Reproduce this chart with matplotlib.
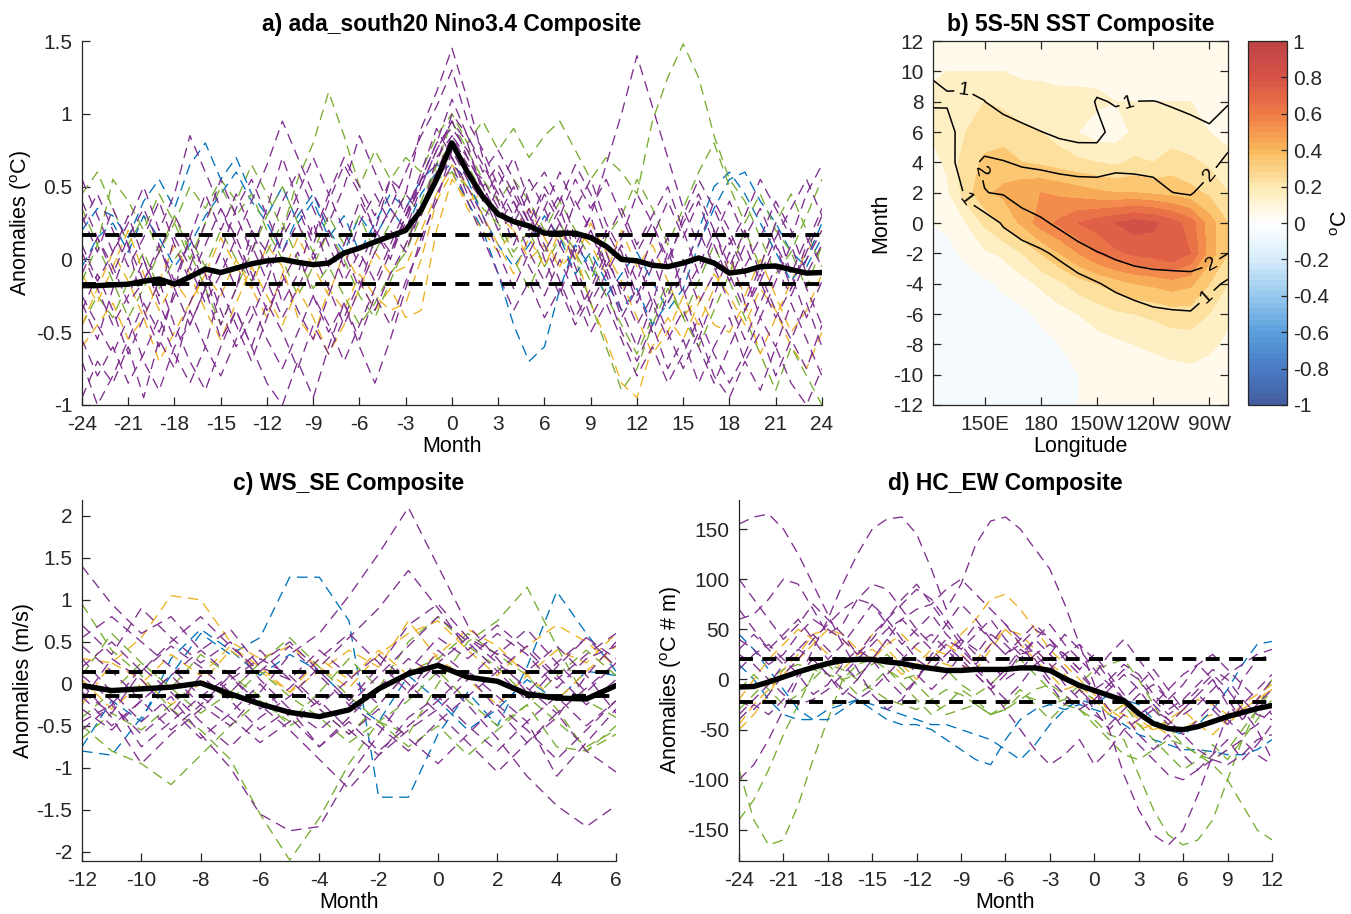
import numpy as np
import matplotlib
matplotlib.use("Agg")
import matplotlib.pyplot as plt
from matplotlib.colors import LinearSegmentedColormap, Normalize
from matplotlib.ticker import FuncFormatter, MultipleLocator
import matplotlib.cm as cm

plt.rcParams['font.family'] = ['Liberation Sans', 'DejaVu Sans']
plt.rcParams['mathtext.fontset'] = 'custom'
plt.rcParams['mathtext.rm'] = 'Liberation Sans'
plt.rcParams['axes.unicode_minus'] = False

# ---------------- colours (MATLAB order) ----------------
PUR, GRN, YEL, BLU = '#7E2F8E', '#77AC30', '#EDB120', '#0072BD'

# ---------------- panel a: Nino3.4 composite ----------------
a_months = np.arange(-24, 25)
a_comp = [-0.18, -0.18, -0.175, -0.17, -0.15, -0.135, -0.17,
          -0.12, -0.066, -0.09, -0.06, -0.03, -0.01, 0.0,
          -0.02, -0.036, -0.025, 0.044, 0.078, 0.12, 0.16,
          0.20, 0.34, 0.55, 0.80, 0.60, 0.43, 0.31,
          0.26, 0.23, 0.18, 0.18, 0.18, 0.15, 0.09,
          0.0, -0.01, -0.04, -0.05, -0.025, 0.01, -0.025,
          -0.094, -0.08, -0.05, -0.045, -0.07, -0.094, -0.09]
a_thresh = 0.17
a_s01 = [-0.30, -0.55, -0.20, 0.10, -0.35, -0.60, -0.20, 0.15, -0.10, -0.45, -0.20, 0.20, 0.05, -0.30,
         -0.10, 0.25, -0.05, 0.10, 0.40, 0.20, 0.55, 0.45, 0.90, 1.15, 1.45, 1.10, 0.70, 0.40,
         0.10, 0.35, 0.00, -0.25, 0.10, 0.30, -0.05, -0.35, -0.60, -0.30, 0.05, -0.20, -0.55, -0.25,
         0.05, -0.30, -0.05, 0.25, -0.10, -0.40, -0.15]
a_s02 = [-0.95, -0.70, -0.85, -0.60, -0.95, -0.55, -0.75, -0.35, -0.60, -0.20, -0.45, -0.70, -0.40, -0.10,
         -0.35, -0.55, -0.25, 0.05, -0.20, 0.15, 0.35, 0.20, 0.50, 0.75, 0.95, 0.80, 0.45, 0.20,
         0.30, 0.05, 0.25, 0.45, 0.15, -0.10, 0.20, 0.00, -0.30, -0.05, 0.15, -0.25, -0.05, 0.20,
         -0.10, -0.35, -0.15, 0.10, -0.20, 0.05, 0.30]
a_s03 = [0.45, 0.60, 0.35, 0.10, 0.30, 0.05, 0.25, 0.50, 0.35, 0.55, 0.40, 0.65, 0.45, 0.20,
         0.55, 0.80, 1.15, 0.85, 0.50, 0.75, 0.55, 0.70, 0.60, 0.85, 1.00, 0.80, 0.95, 0.75,
         0.90, 0.70, 0.85, 0.95, 0.75, 0.55, 0.70, 0.60, 0.45, 0.95, 1.25, 1.48, 1.25, 0.85,
         0.55, 0.40, 0.15, -0.10, 0.05, 0.30, 0.55]
a_s04 = [0.20, 0.35, 0.30, 0.15, 0.40, 0.55, 0.35, 0.65, 0.80, 0.55, 0.70, 0.45, 0.30, 0.50,
         0.25, 0.40, 0.15, 0.30, 0.05, 0.25, 0.45, 0.35, 0.55, 0.65, 0.60, 0.40, 0.20, -0.10,
         -0.45, -0.70, -0.60, -0.20, 0.10, -0.05, -0.25, -0.10, 0.05, -0.15, -0.35, -0.20, 0.10, 0.35,
         0.55, 0.60, 0.40, 0.25, 0.05, -0.05, 0.15]
a_s05 = [-0.60, -0.45, -0.30, -0.55, -0.40, -0.70, -0.50, -0.30, -0.10, -0.25, 0.00, -0.20, 0.10, -0.05,
         -0.40, -0.55, -0.20, -0.35, -0.10, -0.25, -0.35, -0.30, 0.00, 0.40, 0.60, 0.35, 0.20, 0.05,
         0.20, 0.00, 0.10, -0.05, 0.05, -0.30, -0.55, -0.85, -0.95, -0.60, -0.40, -0.55, -0.30, -0.10,
         -0.25, -0.45, -0.20, -0.35, -0.60, -0.75, -0.50]
a_s06 = [0.10, -0.15, 0.05, 0.30, 0.00, -0.25, 0.15, -0.05, 0.25, 0.55, 0.30, 0.05, 0.35, 0.70,
         0.40, 0.15, 0.45, 0.20, -0.05, 0.20, 0.00, 0.30, 0.60, 0.90, 0.70, 0.45, 0.25, 0.50,
         0.70, 0.40, 0.15, 0.35, 0.05, 0.30, 0.65, 1.00, 1.40, 1.05, 0.70, 0.35, 0.10, 0.40,
         0.20, -0.05, 0.15, 0.40, 0.20, -0.10, 0.10]
a_s07 = [-0.10, 0.15, -0.05, -0.30, -0.15, 0.10, -0.20, -0.45, -0.20, -0.55, -0.35, -0.60, -0.30, -0.50,
         -0.75, -0.45, -0.65, -0.40, -0.15, -0.35, -0.10, 0.10, 0.35, 0.55, 0.70, 0.50, 0.30, 0.05,
         -0.20, 0.05, -0.15, 0.10, -0.10, -0.40, -0.20, -0.50, -0.70, -0.45, -0.75, -0.55, -0.85, -0.60,
         -0.40, -0.70, -0.50, -0.80, -0.55, -0.30, -0.60]
a_s08 = [0.55, 0.30, 0.05, 0.25, 0.50, 0.20, 0.45, 0.85, 0.60, 0.35, 0.15, 0.40, 0.65, 0.95,
         0.70, 0.45, 0.25, 0.50, 0.85, 0.60, 0.35, 0.60, 0.85, 1.05, 1.30, 0.95, 0.75, 0.50,
         0.30, 0.55, 0.35, 0.10, 0.40, 0.20, -0.05, 0.15, 0.45, 0.25, -0.05, 0.30, 0.55, 0.35,
         0.10, 0.30, 0.55, 0.35, 0.15, 0.45, 0.65]
a_s09 = [-0.45, -0.25, -0.40, -0.15, 0.05, -0.20, 0.00, 0.15, -0.05, 0.20, 0.00, -0.15, 0.05, 0.25,
         0.00, -0.20, -0.05, -0.25, -0.45, -0.30, -0.10, 0.05, 0.30, 0.55, 0.60, 0.50, 0.35, 0.25,
         0.05, 0.20, -0.05, 0.15, 0.00, -0.30, -0.60, -0.90, -0.75, -0.45, -0.20, -0.40, -0.15, 0.10,
         -0.15, -0.40, -0.65, -0.90, -0.60, -0.80, -1.00]
a_s10 = [-0.70, -1.00, -0.80, -0.55, -0.30, -0.50, -0.25, -0.05, -0.30, -0.10, 0.15, -0.10, -0.35, -0.15,
         0.05, -0.25, -0.50, -0.30, -0.60, -0.85, -0.55, -0.20, 0.15, 0.40, 0.75, 0.55, 0.40, 0.60,
         0.40, 0.15, 0.35, 0.60, 0.35, 0.55, 0.25, 0.05, -0.25, 0.00, -0.30, -0.10, 0.20, -0.05,
         -0.30, -0.55, -0.30, -0.05, -0.25, 0.00, 0.20]
a_s11 = [-0.10, -0.30, -0.05, 0.20, -0.10, -0.35, -0.15, -0.30, -0.10, 0.15, -0.05, -0.20, -0.40, -0.10,
         0.15, -0.05, -0.25, 0.05, -0.15, -0.35, -0.20, -0.40, -0.35, 0.20, 0.55, 0.40, 0.45, 0.30,
         0.20, 0.35, 0.15, -0.05, 0.20, 0.10, -0.10, 0.20, -0.05, 0.10, -0.15, -0.40, -0.25, -0.45,
         -0.50, -0.30, -0.65, -0.40, -0.15, 0.05, 0.20]
a_s12 = [0.30, 0.05, 0.35, 0.10, -0.15, 0.05, 0.30, 0.10, -0.20, 0.05, 0.35, 0.55, 0.30, 0.05,
         0.25, 0.00, 0.20, -0.05, 0.25, 0.45, 0.25, 0.45, 0.30, 0.70, 0.85, 0.65, 0.55, 0.35,
         0.25, 0.45, 0.60, 0.40, 0.65, 0.45, 0.15, 0.35, 0.10, 0.30, 0.50, 0.20, -0.10, 0.15,
         0.40, 0.15, 0.35, 0.10, -0.10, 0.15, -0.05]
a_s13 = [-0.35, -0.10, -0.35, -0.65, -0.40, -0.15, -0.45, -0.70, -0.90, -0.60, -0.35, -0.60, -0.85, -1.00,
         -0.70, -0.95, -0.60, -0.30, -0.55, -0.25, -0.45, -0.15, 0.10, 0.45, 0.65, 0.40, 0.15, -0.10,
         -0.35, -0.15, -0.40, -0.20, -0.45, -0.25, 0.00, -0.20, -0.45, -0.25, -0.50, -0.75, -0.50, -0.80,
         -0.95, -0.70, -0.90, -0.60, -0.85, -1.00, -0.75]
a_s14 = [-0.05, 0.15, 0.25, 0.05, 0.30, 0.15, -0.05, 0.10, 0.30, 0.45, 0.60, 0.40, 0.25, 0.05,
         0.30, 0.45, 0.20, 0.05, 0.30, 0.15, 0.35, 0.20, 0.45, 0.60, 0.65, 0.55, 0.30, 0.10,
         -0.05, 0.10, 0.30, 0.15, -0.10, 0.05, -0.15, -0.35, -0.20, -0.45, -0.30, -0.10, 0.20, 0.50,
         0.60, 0.45, 0.25, 0.05, -0.15, 0.00, 0.25]
a_s15 = [0.35, 0.10, 0.55, 0.40, 0.20, 0.45, 0.25, 0.00, 0.25, 0.50, 0.30, 0.45, 0.20, 0.00,
         -0.25, -0.05, 0.20, 0.00, -0.25, -0.40, -0.15, 0.10, 0.40, 0.65, 0.80, 0.65, 0.45, 0.20,
         0.00, -0.20, 0.05, 0.25, 0.05, -0.15, 0.15, 0.30, 0.55, 0.35, 0.10, 0.35, 0.60, 0.80,
         0.50, 0.25, 0.45, 0.20, 0.05, -0.20, 0.10]
a_s16 = [-0.25, -0.45, -0.65, -0.40, -0.70, -0.90, -0.60, -0.45, -0.20, 0.05, -0.20, 0.10, -0.15, 0.15,
         0.35, 0.10, 0.40, 0.65, 0.45, 0.20, 0.05, 0.30, 0.55, 0.65, 1.00, 0.85, 0.60, 0.75,
         0.55, 0.30, 0.10, -0.15, -0.40, -0.20, 0.05, -0.25, 0.00, -0.30, -0.55, -0.35, -0.60, -0.85,
         -0.60, -0.35, -0.10, -0.35, -0.55, -0.75, -0.45]
a_s17 = [0.05, -0.20, -0.45, -0.25, 0.00, -0.30, -0.55, -0.30, -0.05, -0.35, -0.60, -0.40, -0.15, -0.40,
         -0.20, 0.05, -0.20, -0.45, -0.20, 0.05, 0.20, 0.05, 0.35, 0.60, 0.85, 0.70, 0.50, 0.25,
         0.40, 0.20, 0.45, 0.25, 0.00, 0.20, -0.10, -0.40, -0.20, -0.50, -0.25, 0.00, -0.30, -0.10,
         0.15, -0.10, -0.40, -0.15, 0.10, -0.20, -0.45]
a_s18 = [0.25, 0.45, 0.20, -0.05, 0.15, 0.40, 0.10, -0.15, 0.10, 0.35, 0.10, -0.15, 0.10, 0.40,
         0.60, 0.35, 0.10, -0.15, 0.05, -0.15, 0.10, 0.35, 0.55, 0.80, 0.90, 0.75, 0.50, 0.30,
         0.50, 0.25, 0.05, 0.25, -0.05, -0.30, -0.10, 0.10, -0.15, 0.15, 0.40, 0.15, 0.40, 0.10,
         -0.15, 0.10, -0.15, -0.40, -0.20, 0.10, 0.35]
a_s19 = [-0.45, -0.20, 0.05, -0.15, -0.40, -0.15, 0.10, -0.10, -0.35, -0.55, -0.30, -0.05, -0.25, -0.45,
         -0.20, -0.40, -0.65, -0.45, -0.20, 0.05, -0.10, -0.05, 0.20, 0.45, 0.65, 0.50, 0.30, 0.10,
         -0.10, 0.15, -0.05, 0.20, 0.00, 0.25, 0.05, -0.15, -0.40, -0.65, -0.50, -0.25, -0.45, -0.20,
         0.00, -0.25, 0.00, -0.25, -0.50, -0.35, -0.10]
a_s20 = [-0.55, -0.80, -0.60, -0.85, -0.65, -0.40, -0.65, -0.85, -0.60, -0.80, -0.55, -0.30, -0.55, -0.75,
         -0.50, -0.25, -0.45, -0.70, -0.45, -0.20, 0.05, 0.25, 0.55, 0.80, 1.10, 0.85, 0.65, 0.45,
         0.20, -0.05, -0.25, 0.00, -0.25, -0.50, -0.30, -0.55, -0.80, -0.60, -0.85, -0.65, -0.40, -0.65,
         -0.85, -0.65, -0.40, -0.60, -0.30, -0.55, -0.80]
a_s21 = [-0.15, 0.10, -0.15, -0.40, -0.20, 0.05, 0.30, 0.05, -0.20, -0.45, -0.20, 0.05, 0.30, 0.50,
         0.25, 0.05, 0.30, 0.10, 0.30, 0.05, 0.25, 0.45, 0.30, 0.65, 0.95, 0.75, 0.55, 0.40,
         0.55, 0.40, 0.20, 0.40, 0.20, 0.00, -0.25, -0.45, -0.65, -0.40, -0.15, -0.40, -0.60, -0.35,
         -0.10, 0.20, -0.05, 0.25, 0.45, 0.20, -0.05]
a_s22 = [0.40, 0.15, -0.10, 0.15, 0.35, 0.10, -0.15, 0.15, 0.45, 0.20, 0.45, 0.20, -0.05, 0.20,
         0.45, 0.70, 0.45, 0.70, 0.50, 0.30, 0.55, 0.30, 0.50, 0.75, 0.95, 0.70, 0.50, 0.65,
         0.45, 0.25, 0.50, 0.30, 0.55, 0.35, 0.55, 0.30, 0.05, 0.25, 0.00, 0.25, 0.45, 0.20,
         -0.05, 0.20, -0.10, 0.15, 0.35, 0.55, 0.30]
a_series = [a_s01, a_s02, a_s03, a_s04, a_s05, a_s06, a_s07, a_s08, a_s09, a_s10, a_s11,
            a_s12, a_s13, a_s14, a_s15, a_s16, a_s17, a_s18, a_s19, a_s20, a_s21, a_s22]
a_colors = [PUR, PUR, GRN, BLU, YEL, PUR, PUR, PUR, GRN, PUR, YEL,
            PUR, PUR, BLU, GRN, PUR, PUR, PUR, YEL, PUR, GRN, PUR]

# ---------------- panel b: 5S-5N SST composite ----------------
b_lon = [120, 130, 140, 150, 160, 170, 180, 190, 200, 210, 220, 230, 240, 250, 260, 270, 280]
b_month_top_down = [12, 10, 8, 6, 4, 2, 0, -2, -4, -6, -8, -10, -12]
b_sst = [
    [0.03, 0.04, 0.05, 0.05, 0.05, 0.04, 0.04, 0.04, 0.04, 0.03, 0.03, 0.03, 0.03, 0.03, 0.03, 0.03, 0.02],
    [0.08, 0.10, 0.10, 0.10, 0.10, 0.08, 0.08, 0.08, 0.08, 0.07, 0.06, 0.06, 0.06, 0.06, 0.06, 0.06, 0.05],
    [0.12, 0.15, 0.18, 0.20, 0.18, 0.15, 0.14, 0.12, 0.12, 0.12, 0.10, 0.10, 0.10, 0.10, 0.10, 0.08, 0.06],
    [0.10, 0.13, 0.20, 0.25, 0.25, 0.22, 0.20, 0.15, 0.10, 0.05, 0.05, 0.12, 0.13, 0.14, 0.13, 0.10, 0.08],
    [0.05, 0.12, 0.25, 0.32, 0.35, 0.30, 0.28, 0.25, 0.22, 0.20, 0.18, 0.22, 0.20, 0.25, 0.22, 0.18, 0.12],
    [0.02, 0.08, 0.25, 0.38, 0.42, 0.48, 0.50, 0.48, 0.45, 0.42, 0.40, 0.40, 0.38, 0.36, 0.33, 0.28, 0.20],
    [0.00, 0.02, 0.10, 0.22, 0.32, 0.42, 0.55, 0.62, 0.70, 0.75, 0.80, 0.85, 0.82, 0.75, 0.65, 0.45, 0.30],
    [-0.02, -0.03, 0.02, 0.08, 0.12, 0.20, 0.30, 0.40, 0.50, 0.60, 0.68, 0.72, 0.75, 0.80, 0.70, 0.45, 0.30],
    [-0.04, -0.05, -0.04, -0.02, 0.02, 0.06, 0.12, 0.18, 0.25, 0.30, 0.35, 0.40, 0.42, 0.45, 0.42, 0.30, 0.20],
    [-0.05, -0.05, -0.05, -0.05, -0.04, -0.02, 0.02, 0.06, 0.10, 0.14, 0.18, 0.20, 0.22, 0.25, 0.25, 0.20, 0.12],
    [-0.05, -0.05, -0.05, -0.05, -0.05, -0.04, -0.03, 0.00, 0.03, 0.06, 0.08, 0.10, 0.12, 0.14, 0.15, 0.12, 0.08],
    [-0.04, -0.04, -0.05, -0.05, -0.05, -0.05, -0.04, -0.02, 0.00, 0.02, 0.03, 0.04, 0.05, 0.06, 0.07, 0.06, 0.04],
    [-0.03, -0.03, -0.03, -0.03, -0.03, -0.03, -0.02, -0.02, 0.00, 0.00, 0.02, 0.02, 0.02, 0.03, 0.03, 0.02, 0.02],
]
# significance-type field drawn as the black 1 / 2 contours (rows: months 12 .. -12)
b_sig = [
    [0.70, 0.60, 0.50, 0.40, 0.30, 0.30, 0.30, 0.30, 0.30, 0.30, 0.30, 0.30, 0.30, 0.30, 0.30, 0.30, 0.30],
    [0.99, 0.85, 0.83, 0.75, 0.30, 0.30, 0.30, 0.30, 0.30, 0.40, 0.30, 0.32, 0.30, 0.30, 0.30, 0.30, 0.30],
    [1.05, 1.08, 1.10, 1.01, 0.72, 0.51, 0.30, 0.30, 0.30, 1.10, 0.93, 1.01, 1.02, 0.93, 0.81, 0.55, 0.93],
    [0.80, 0.70, 1.40, 1.57, 1.39, 1.21, 1.02, 0.83, 0.72, 0.72, 1.35, 1.38, 1.36, 1.31, 1.25, 1.17, 1.53],
    [0.60, 0.45, 1.75, 2.11, 2.04, 1.90, 1.74, 1.61, 1.52, 1.51, 1.75, 1.75, 1.72, 1.66, 1.58, 1.67, 2.24],
    [0.50, 0.50, 1.08, 1.98, 2.07, 2.54, 2.78, 2.63, 2.54, 2.51, 2.47, 2.40, 2.29, 2.01, 1.92, 2.39, 3.44],
    [0.40, 0.45, 0.75, 0.47, 1.10, 1.47, 1.81, 2.22, 2.68, 3.10, 3.41, 3.60, 3.49, 3.25, 2.93, 3.59, 3.20],
    [0.35, 0.40, 0.55, 0.40, 0.37, 0.64, 0.85, 1.18, 1.57, 1.93, 2.21, 2.41, 2.49, 2.53, 2.56, 2.46, 2.00],
    [0.30, 0.35, 0.45, 0.35, 0.30, 0.30, 0.30, 0.42, 0.70, 0.94, 1.22, 1.43, 1.56, 1.60, 1.63, 1.29, 0.83],
    [0.30, 0.30, 0.40, 0.30, 0.30, 0.30, 0.30, 0.30, 0.30, 0.30, 0.46, 0.65, 0.83, 0.90, 0.93, 0.48, 0.30],
    [0.30, 0.30, 0.35, 0.30, 0.30, 0.30, 0.30, 0.30, 0.30, 0.30, 0.30, 0.30, 0.30, 0.30, 0.30, 0.30, 0.30],
    [0.30, 0.30, 0.30, 0.30, 0.30, 0.30, 0.30, 0.30, 0.30, 0.30, 0.30, 0.30, 0.30, 0.30, 0.30, 0.30, 0.30],
    [0.30, 0.30, 0.30, 0.30, 0.30, 0.30, 0.30, 0.30, 0.30, 0.30, 0.30, 0.30, 0.30, 0.30, 0.30, 0.30, 0.30],
]
b_xticks = [150, 180, 210, 240, 270]
b_xticklabels = ['150E', '180', '150W', '120W', '90W']

# ---------------- panel c: WS_SE composite ----------------
c_months = np.arange(-12, 7)
c_comp = [-0.02, -0.08, -0.06, -0.04, 0.01, -0.12, -0.24, -0.34, -0.39, -0.31,
          -0.06, 0.12, 0.22, 0.08, 0.03, -0.12, -0.17, -0.18, -0.02]
c_thresh = 0.14
c_s01 = [-0.30, -0.55, -0.20, 0.10, -0.25, -0.50, -0.10, 0.35, 0.60, 1.05, 1.55, 2.10, 1.40, 0.70, 0.30, -0.10, 0.25, 0.55, 0.20]
c_s02 = [-0.80, -0.85, -0.40, 0.10, 0.60, 0.35, 0.55, 1.27, 1.27, 0.75, -1.35, -1.35, -0.60, -0.10, -0.50, 0.20, 1.10, 0.60, 0.15]
c_s03 = [0.95, 0.40, 0.10, -0.30, -0.55, -0.90, -1.55, -2.10, -1.60, -0.95, -0.45, -0.60, 0.00, 0.50, 0.75, 1.15, 0.45, -0.20, -0.40]
c_s04 = [0.30, -0.10, -0.45, -0.15, -0.60, -1.00, -1.55, -1.75, -1.70, -1.10, -0.60, -0.10, 0.40, 0.10, -0.30, -0.70, -0.40, 0.10, 0.50]
c_s05 = [0.30, 0.25, 0.55, 1.05, 1.00, 0.50, 0.30, 0.45, 0.20, -0.05, 0.35, 0.60, 0.75, 0.40, 0.10, 0.45, 0.70, 0.50, 0.20]
c_s06 = [-0.20, 0.30, 0.05, -0.35, 0.10, -0.20, -0.55, -0.30, -0.75, -0.40, -0.05, 0.30, 0.10, -0.25, -0.65, -1.10, -1.45, -1.70, -1.45]
c_s07 = [1.40, 0.95, 0.60, 0.80, 0.40, 0.65, 0.20, 0.05, 0.40, 0.10, -0.25, 0.15, 0.55, 0.30, 0.60, 0.35, -0.05, 0.30, 0.45]
c_s08 = [-0.50, -0.80, -0.95, -1.20, -0.85, -0.50, -0.20, -0.45, -0.10, 0.30, -0.05, 0.50, 0.80, 0.45, 0.20, -0.15, -0.45, -0.75, -0.55]
c_s09 = [-0.10, -0.35, 0.15, 0.45, 0.20, -0.10, 0.25, 0.50, 0.15, -0.20, 0.20, 0.70, 0.95, 0.55, 0.35, 0.65, 0.25, -0.10, 0.25]
c_s10 = [0.55, 0.80, 0.50, 0.20, -0.15, 0.10, -0.25, -0.55, -0.90, -1.25, -0.85, -0.40, -0.15, -0.50, -0.80, -0.45, -1.10, -0.70, -0.30]
c_s11 = [-0.75, -0.20, -0.45, 0.30, 0.65, 0.40, 0.10, 0.35, 0.15, -0.20, -0.45, 0.10, -0.20, -0.55, -0.30, 0.05, -0.20, 0.15, 0.10]
c_s12 = [0.10, -0.20, -0.75, -0.45, -0.15, -0.40, -0.70, -0.45, -0.20, -0.55, -0.85, -0.55, -0.30, 0.05, 0.40, 0.15, 0.45, 0.10, -0.35]
c_s13 = [-0.25, 0.25, 0.05, -0.25, 0.00, 0.40, 0.15, -0.10, 0.15, 0.40, 0.20, 0.75, 0.30, 0.05, -0.25, 0.10, 0.40, 0.25, 0.60]
c_s14 = [0.00, -0.40, -0.95, -0.60, -0.30, 0.05, 0.30, 0.10, -0.25, 0.05, 0.35, 0.00, -0.35, -0.70, -1.05, -0.70, -0.35, -0.80, -1.05]
c_s15 = [0.10, 0.60, 0.25, -0.05, 0.35, 0.10, -0.15, -0.50, -0.30, -0.60, -0.25, 0.15, 0.30, 0.60, 0.35, 0.10, -0.30, -0.80, -0.60]
c_s16 = [-0.45, -0.25, 0.20, -0.10, -0.45, -0.75, -0.40, -0.15, 0.20, 0.55, 0.90, 1.35, 0.90, 0.40, 0.70, 0.40, 0.05, 0.35, 0.60]
c_s17 = [0.70, 0.35, 0.90, 0.55, 0.25, 0.50, 0.05, -0.30, -0.55, -0.25, -0.50, -0.80, -0.45, -0.15, 0.15, -0.20, 0.20, 0.55, 0.30]
c_s18 = [-0.65, -0.35, -0.55, -0.25, 0.05, -0.20, 0.15, -0.15, -0.40, -0.70, -0.45, -0.75, -0.50, -0.85, -0.55, -0.25, -0.75, -0.80, -0.50]
c_s19 = [0.45, 0.15, -0.20, 0.10, 0.40, 0.10, -0.30, -0.05, 0.30, 0.60, 0.25, -0.10, 0.25, 0.55, 0.25, -0.05, -0.35, -0.05, 0.25]
c_s20 = [-0.55, -0.25, -0.60, -0.30, -0.65, -0.35, 0.00, -0.40, -0.75, -0.45, -0.80, -0.50, -0.20, 0.15, -0.15, -0.45, -0.15, -0.50, -0.20]
c_s21 = [0.05, -0.30, 0.00, 0.35, 0.10, 0.45, 0.20, -0.10, 0.30, 0.05, 0.40, 0.10, 0.35, 0.65, 0.45, 0.10, -0.20, 0.15, 0.45]
c_s22 = [0.20, 0.50, 0.15, 0.50, 0.80, 0.45, 0.15, 0.45, 0.10, -0.25, 0.10, 0.45, 0.80, 0.50, 0.15, 0.45, 0.10, -0.25, 0.05]
c_s23 = [-0.40, -0.10, 0.25, -0.05, -0.35, -0.10, 0.25, 0.55, 0.20, -0.15, -0.45, -0.20, 0.15, -0.20, -0.50, -0.25, 0.10, 0.40, 0.10]
c_s24 = [-0.15, -0.50, -0.20, -0.55, -0.25, 0.10, 0.40, 0.05, -0.30, -0.60, -0.30, -0.65, -0.95, -0.60, -0.25, -0.55, -0.90, -0.55, -0.20]
c_series = [c_s01, c_s02, c_s03, c_s04, c_s05, c_s06, c_s07, c_s08, c_s09, c_s10, c_s11, c_s12,
            c_s13, c_s14, c_s15, c_s16, c_s17, c_s18, c_s19, c_s20, c_s21, c_s22, c_s23, c_s24]
c_colors = [PUR, BLU, GRN, PUR, YEL, PUR, PUR, GRN, PUR, PUR, BLU, PUR,
            YEL, PUR, GRN, PUR, PUR, GRN, PUR, PUR, YEL, PUR, GRN, PUR]

# ---------------- panel d: HC_EW composite ----------------
d_months = np.arange(-24, 13)
d_comp = [-7.5, -7, -2.5, 2.5, 7.5, 12, 16, 19, 20, 20, 17.5, 16, 13, 11, 9, 9, 10, 10, 10,
          11.5, 11.5, 9, 1, -6, -11, -16, -21, -34, -44, -49, -50, -47, -42, -37, -33, -29, -26]
d_thresh_hi = 20.7
d_thresh_lo = -22.4
d_s01 = [155, 162, 165, 150, 125, 95, 65, 35, 10, -15, -30, -20, 0, 25, 40, 30, 15, -5, 10, 30, 20,
         0, -15, -30, -20, -5, 10, 0, -20, -35, -25, -10, 5, -10, -30, -50, -80]
d_s02 = [-100, -85, -60, -30, 0, 30, 60, 95, 125, 150, 160, 162, 145, 110, 70, 95, 135, 158, 162, 150, 130,
         110, 75, 35, -5, -50, -95, -130, -155, -165, -150, -115, -75, -35, 0, 20, 25]
d_s03 = [-90, -140, -165, -160, -125, -80, -40, 0, 15, 20, 10, 0, 5, 15, 10, -5, -15, -5, 10, 20, 5,
         -10, -25, -30, -40, -55, -60, -95, -130, -155, -165, -160, -140, -100, -60, -30, 0]
d_s04 = [-140, -120, -90, -55, -25, 5, 15, 10, 0, -10, -20, -25, -30, -20, -10, -15, -25, -35, -30, -15, -20,
         -25, -20, -5, 10, 15, 20, 0, -25, -50, -65, -75, -85, -100, -125, -150, -160]
d_s05 = [60, 65, 80, 100, 95, 70, 45, 55, 80, 95, 90, 70, 50, 35, 55, 75, 60, 40, 25, 35, 50,
         40, 20, 5, -10, 0, 15, 5, -15, -30, -20, -5, 10, 0, -20, -35, -40]
d_s06 = [-50, -35, -15, 10, 25, 45, 50, 40, 25, 30, 20, 5, 15, 30, 25, 45, 60, 80, 85, 70, 50,
         30, 15, 0, -15, -30, -40, -50, -45, -55, -50, -40, -35, -45, -30, -20, -10]
d_s07 = [15, 0, -20, -35, -40, -40, -30, -25, -20, -30, -40, -45, -45, -50, -60, -70, -80, -85, -60, -40, -30,
         -25, -30, -25, -30, -35, -45, -55, -60, -65, -70, -70, -72, -75, -75, -70, -60]
d_s08 = [45, 30, 10, -10, -30, -40, -40, -30, -20, -25, -30, -35, -40, -45, -45, -50, -55, -60, -70, -80, -65,
         -45, -30, -20, -25, -15, -20, -25, -40, -50, -55, -45, -30, -10, 15, 35, 38]
d_s09 = [40, 30, 15, 25, 45, 60, 50, 40, 25, 45, 60, 75, 90, 80, 60, 40, 25, 45, 35, 20, 40,
         55, 35, 20, 5, 25, 40, 20, 0, -20, -5, 15, 0, -25, -40, -20, 0]
d_s10 = [-20, -30, -15, 5, 20, 40, 55, 70, 80, 75, 60, 40, 20, 10, 25, 40, 30, 15, 0, 10, 25,
         35, 25, 10, -10, -30, -50, -65, -80, -95, -100, -90, -80, -70, -60, -75, -85]
d_s11 = [10, 25, 35, 20, 5, -15, -5, 15, 30, 20, 0, -15, 0, 20, 35, 20, 5, -10, 5, 25, 30,
         15, -5, -20, -35, -45, -30, -15, -5, -20, -35, -25, -10, 5, 15, 25, 30]
d_s12 = [-30, -15, 0, 10, 15, 10, 5, 0, 5, 15, 25, 10, -5, -20, -35, -30, -25, -35, -30, -20, -10,
         -5, -15, -30, -45, -60, -75, -80, -70, -60, -65, -75, -80, -70, -50, -30, -10]
d_s13 = [-35, -20, -5, 15, 30, 20, 5, -10, -20, -10, 5, 20, 35, 45, 30, 15, 5, -10, -30, -50, -70,
         -85, -75, -60, -85, -70, -50, -40, -30, -40, -55, -70, -80, -85, -75, -60, -55]
d_s14 = [25, 15, 0, -15, -25, -20, -10, 5, 20, 35, 50, 60, 70, 75, 90, 100, 85, 70, 55, 40, 25,
         10, 25, 35, 20, 0, -20, -35, -25, -10, 5, 15, 25, 10, -5, -20, -35]
d_s15 = [-45, -25, -10, 5, 20, 35, 50, 45, 30, 20, 35, 45, 30, 20, 15, 10, 20, 35, 50, 45, 30,
         15, 5, -10, -20, -30, -35, -45, -50, -45, -30, -20, -25, -35, -30, -20, -10]
d_s16 = [70, 50, 30, 45, 60, 40, 20, 35, 55, 75, 55, 35, 50, 65, 45, 30, 45, 60, 40, 25, 40,
         25, 10, -10, -25, -10, 5, -10, -30, -45, -30, -15, -30, -45, -25, -10, 5]
d_s17 = [-40, -25, -35, -20, 5, 20, 5, -15, 0, 20, 40, 25, 5, -10, 5, 25, 10, -5, -20, -5, 15,
         -5, -25, -10, -30, -50, -35, -55, -70, -55, -75, -90, -75, -60, -80, -65, -45]
d_s18 = [100, 80, 60, 40, 55, 75, 60, 45, 25, 40, 60, 80, 95, 75, 55, 35, 15, 35, 55, 35, 15,
         25, 45, 30, 10, -5, -20, -5, 10, -10, -30, -15, 0, -20, -40, -25, -10]
d_s19 = [-10, 5, -10, -25, -15, 0, 15, 0, -15, -5, 10, -5, -20, -35, -25, -10, -20, -35, -25, -10, -25,
         -40, -25, -10, -20, -35, -25, -45, -60, -75, -90, -80, -65, -80, -60, -40, -20]
d_s20 = [30, 45, 30, 15, 30, 45, 30, 15, 0, 20, 40, 60, 45, 30, 15, 35, 55, 40, 25, 40, 55,
         40, 25, 10, 25, 5, -15, -35, -25, -40, -55, -40, -25, -40, -55, -45, -30]
d_s21 = [-20, 0, 20, 35, 50, 40, 25, 10, 25, 45, 30, 15, 0, 20, 35, 25, 10, 30, 50, 35, 20,
         5, -10, -5, -20, -35, -25, -40, -50, -40, -30, -45, -55, -40, -25, -15, -5]
d_series = [d_s01, d_s02, d_s03, d_s04, d_s05, d_s06, d_s07, d_s08, d_s09, d_s10, d_s11,
            d_s12, d_s13, d_s14, d_s15, d_s16, d_s17, d_s18, d_s19, d_s20, d_s21]
d_colors = [PUR, PUR, GRN, GRN, PUR, YEL, BLU, BLU, PUR, PUR, PUR,
            GRN, PUR, PUR, YEL, PUR, PUR, PUR, GRN, PUR, YEL]

for s in a_series:
    assert len(s) == len(a_months)
for s in c_series:
    assert len(s) == len(c_months)
for s in d_series:
    assert len(s) == len(d_months)

# ---------------- styling helpers ----------------
AXC = '#262626'
FS_TICK = 15
FS_LAB = 15.5
FS_TITLE = 16.5


def fmt_g(v, p):
    v = round(v, 6)
    if v == 0:
        v = 0.0
    return f'{v:g}'


def style_line_axes(ax):
    for side in ['top', 'right']:
        ax.spines[side].set_visible(False)
    for side in ['left', 'bottom']:
        ax.spines[side].set_color(AXC)
        ax.spines[side].set_linewidth(0.9)
    ax.tick_params(direction='in', length=6, width=0.9, colors=AXC,
                   labelsize=FS_TICK, pad=7)
    ax.yaxis.set_major_formatter(FuncFormatter(fmt_g))


def spaghetti(ax, months, series, colors, comp, th_hi, th_lo):
    # non-purple first, purple on top (as in the reference)
    order = sorted(range(len(series)), key=lambda i: colors[i] == PUR)
    for i in order:
        ax.plot(months, series[i], color=colors[i], lw=0.95, dashes=(8, 5), zorder=2)
    ax.axhline(th_hi, color='k', lw=2.8, dashes=(3.6, 2.4), zorder=4)
    ax.axhline(th_lo, color='k', lw=2.8, dashes=(3.6, 2.4), zorder=4)
    ax.plot(months, comp, color='k', lw=3.9, solid_joinstyle='round',
            solid_capstyle='round', zorder=5)


fig = plt.figure(figsize=(13.51, 9.14), dpi=100)

# ---- a ----
ax_a = fig.add_axes([0.0607, 0.5569, 0.5477, 0.3982])
spaghetti(ax_a, a_months, a_series, a_colors, a_comp, a_thresh, -a_thresh)
ax_a.set_xlim(-24, 24)
ax_a.set_ylim(-1, 1.5)
ax_a.xaxis.set_major_locator(MultipleLocator(3))
ax_a.yaxis.set_major_locator(MultipleLocator(0.5))
style_line_axes(ax_a)
ax_a.set_title('a) ada_south20 Nino3.4 Composite', fontsize=FS_TITLE, fontweight='bold', pad=7)
ax_a.set_xlabel('Month', fontsize=FS_LAB, labelpad=2)
ax_a.set_ylabel('Anomalies ($\\mathregular{^{o}}$C)', fontsize=FS_LAB, labelpad=2)

# ---- b ----
cmap = LinearSegmentedColormap.from_list('sst', [
    (0.00, (0.27, 0.37, 0.63)),
    (0.10, (0.29, 0.49, 0.78)),
    (0.20, (0.36, 0.63, 0.87)),
    (0.30, (0.60, 0.79, 0.93)),
    (0.40, (0.85, 0.93, 0.985)),
    (0.50, (1.00, 1.00, 1.00)),
    (0.60, (0.996, 0.92, 0.70)),
    (0.70, (0.98, 0.73, 0.36)),
    (0.80, (0.94, 0.49, 0.28)),
    (0.90, (0.85, 0.33, 0.28)),
    (1.00, (0.75, 0.26, 0.27)),
], N=256)
norm = Normalize(-1, 1)
lon = np.array(b_lon)
mon = np.array(b_month_top_down)[::-1]
sst = np.array(b_sst)[::-1]
sig = np.array(b_sig)[::-1]

ax_b = fig.add_axes([0.6906, 0.5569, 0.2184, 0.3982])
ax_b.contourf(lon, mon, sst, levels=np.arange(-1, 1.001, 0.1), cmap=cmap, norm=norm)
cs = ax_b.contour(lon, mon, sig, levels=[1, 2], colors='k', linewidths=1.1)
ax_b.clabel(cs, fmt='%d', fontsize=14, inline=True, inline_spacing=4,
            manual=[(139, 8.7), (227, 7.9), (139, 1.4), (268, -4.8),
                    (143, 3.3), (272, 3.0), (271, -2.7)])
ax_b.set_xlim(122.5, 280)
ax_b.set_ylim(-12, 12)
ax_b.set_xticks(b_xticks)
ax_b.set_xticklabels(b_xticklabels)
ax_b.yaxis.set_major_locator(MultipleLocator(2))
ax_b.yaxis.set_major_formatter(FuncFormatter(fmt_g))
ax_b.tick_params(direction='in', length=6, width=0.9, colors=AXC, labelsize=FS_TICK,
                 top=True, right=True, pad=7)
for sp in ax_b.spines.values():
    sp.set_color(AXC)
    sp.set_linewidth(0.9)
ax_b.set_title('b) 5S-5N SST Composite', fontsize=FS_TITLE, fontweight='bold', pad=7)
ax_b.set_xlabel('Longitude', fontsize=FS_LAB, labelpad=2)
ax_b.set_ylabel('Month', fontsize=FS_LAB, labelpad=1)

cax = fig.add_axes([0.9238, 0.5569, 0.0289, 0.3982])
sm = cm.ScalarMappable(norm=norm, cmap=cmap.resampled(64))
cb = fig.colorbar(sm, cax=cax, ticks=np.arange(-1, 1.001, 0.2))
cb.ax.yaxis.set_major_formatter(FuncFormatter(fmt_g))
cb.ax.tick_params(direction='in', length=4, width=0.9, colors=AXC, labelsize=FS_TICK, pad=4)
cb.outline.set_edgecolor(AXC)
cb.outline.set_linewidth(0.9)
cb.set_label('$\\mathregular{^{o}}$C', fontsize=FS_LAB, rotation=90, labelpad=2)

# ---- c ----
ax_c = fig.add_axes([0.0607, 0.058, 0.3953, 0.395])
spaghetti(ax_c, c_months, c_series, c_colors, c_comp, c_thresh, -c_thresh)
ax_c.set_xlim(-12, 6)
ax_c.set_ylim(-2.11, 2.19)
ax_c.xaxis.set_major_locator(MultipleLocator(2))
ax_c.yaxis.set_major_locator(MultipleLocator(0.5))
style_line_axes(ax_c)
ax_c.set_title('c) WS_SE Composite', fontsize=FS_TITLE, fontweight='bold', pad=7)
ax_c.set_xlabel('Month', fontsize=FS_LAB, labelpad=2)
ax_c.set_ylabel('Anomalies (m/s)', fontsize=FS_LAB, labelpad=2)

# ---- d ----
ax_d = fig.add_axes([0.547, 0.058, 0.3945, 0.395])
spaghetti(ax_d, d_months, d_series, d_colors, d_comp, d_thresh_hi, d_thresh_lo)
ax_d.set_xlim(-24, 12)
ax_d.set_ylim(-181, 179)
ax_d.xaxis.set_major_locator(MultipleLocator(3))
ax_d.yaxis.set_major_locator(MultipleLocator(50))
style_line_axes(ax_d)
ax_d.set_title('d) HC_EW Composite', fontsize=FS_TITLE, fontweight='bold', pad=7)
ax_d.set_xlabel('Month', fontsize=FS_LAB, labelpad=2)
ax_d.set_ylabel('Anomalies ($\\mathregular{^{o}}$C # m)', fontsize=FS_LAB, labelpad=2)

fig.savefig('out.png', dpi=100)
